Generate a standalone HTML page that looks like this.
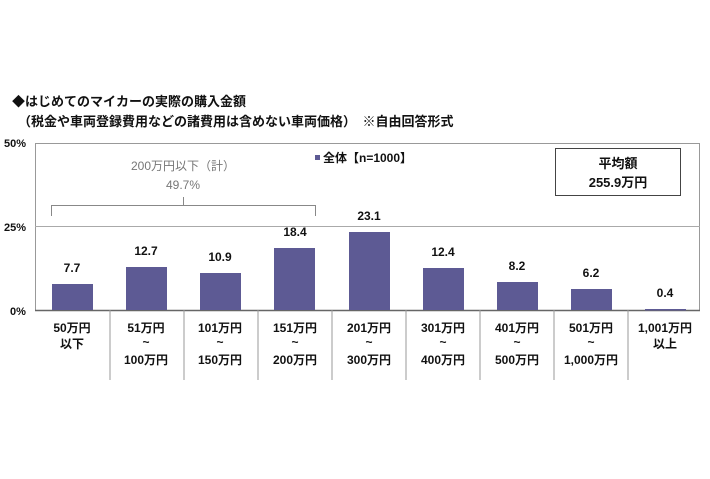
<!DOCTYPE html>
<html><head><meta charset="utf-8"><style>
body{margin:0;background:#fff;}
text{font-family:"Liberation Sans","Noto Sans CJK JP",sans-serif;}
</style></head><body>
<svg width="710" height="474" xmlns="http://www.w3.org/2000/svg">
<text x="12" y="106" font-size="13" font-weight="bold" fill="#111">◆はじめてのマイカーの実際の購入金額</text>
<text x="18" y="126" font-size="13" font-weight="bold" fill="#111">（税金や車両登録費用などの諸費用は含めない車両価格）　※自由回答形式</text>
<g font-size="11" font-weight="bold" fill="#111">
<text x="4" y="147">50%</text><text x="4" y="231">25%</text><text x="10" y="315">0%</text>
</g>
<rect x="35.5" y="143.5" width="664" height="167" fill="none" stroke="#999"/>
<line x1="35" y1="226.5" x2="700" y2="226.5" stroke="#aaa"/>
<line x1="35" y1="310.5" x2="700" y2="310.5" stroke="#666" stroke-width="1.5"/>
<g stroke="#999">
<line x1="110" y1="310" x2="110" y2="380"/><line x1="184" y1="310" x2="184" y2="380"/>
<line x1="258" y1="310" x2="258" y2="380"/><line x1="332" y1="310" x2="332" y2="380"/>
<line x1="406" y1="310" x2="406" y2="380"/><line x1="480" y1="310" x2="480" y2="380"/>
<line x1="554" y1="310" x2="554" y2="380"/><line x1="628" y1="310" x2="628" y2="380"/>
</g>
<g fill="#5d5a94">
<rect x="52" y="284" width="41" height="26"/>
<rect x="126" y="267" width="41" height="43"/>
<rect x="200" y="273" width="41" height="37"/>
<rect x="274" y="248" width="41" height="62"/>
<rect x="349" y="232" width="41" height="78"/>
<rect x="423" y="268" width="41" height="42"/>
<rect x="497" y="282" width="41" height="28"/>
<rect x="571" y="289" width="41" height="21"/>
<rect x="645" y="309" width="41" height="1.5"/>
</g>
<g font-size="12" font-weight="bold" fill="#111" text-anchor="middle">
<text x="72" y="272">7.7</text><text x="146" y="255">12.7</text><text x="220" y="261">10.9</text>
<text x="295" y="236">18.4</text><text x="369" y="220">23.1</text><text x="443" y="256">12.4</text>
<text x="517" y="270">8.2</text><text x="591" y="277">6.2</text><text x="665" y="297">0.4</text>
</g>
<g font-size="12" font-weight="bold" fill="#111" text-anchor="middle">
<text x="72" y="332">50万円</text><text x="72" y="348">以下</text>
<text x="146" y="332">51万円</text><text x="146" y="346">~</text><text x="146" y="364">100万円</text>
<text x="220" y="332">101万円</text><text x="220" y="346">~</text><text x="220" y="364">150万円</text>
<text x="295" y="332">151万円</text><text x="295" y="346">~</text><text x="295" y="364">200万円</text>
<text x="369" y="332">201万円</text><text x="369" y="346">~</text><text x="369" y="364">300万円</text>
<text x="443" y="332">301万円</text><text x="443" y="346">~</text><text x="443" y="364">400万円</text>
<text x="517" y="332">401万円</text><text x="517" y="346">~</text><text x="517" y="364">500万円</text>
<text x="591" y="332">501万円</text><text x="591" y="346">~</text><text x="591" y="364">1,000万円</text>
<text x="665" y="332">1,001万円</text><text x="665" y="348">以上</text>
</g>
<g font-size="12" fill="#777" text-anchor="middle">
<text x="183" y="170">200万円以下（計）</text><text x="183" y="189">49.7%</text>
</g>
<path d="M51.5 216 V205.5 H315.5 V216 M183.5 205 V197" fill="none" stroke="#888"/>
<rect x="315" y="155" width="5" height="5" fill="#5d5a94"/>
<text x="323" y="162" font-size="12" font-weight="bold" fill="#111">全体【n=1000】</text>
<rect x="555.5" y="148.5" width="125" height="47" fill="#fff" stroke="#444"/>
<text x="618" y="168" font-size="13" font-weight="bold" text-anchor="middle" fill="#111">平均額</text>
<text x="618" y="187" font-size="13" font-weight="bold" text-anchor="middle" fill="#111">255.9万円</text>
</svg>
</body></html>
